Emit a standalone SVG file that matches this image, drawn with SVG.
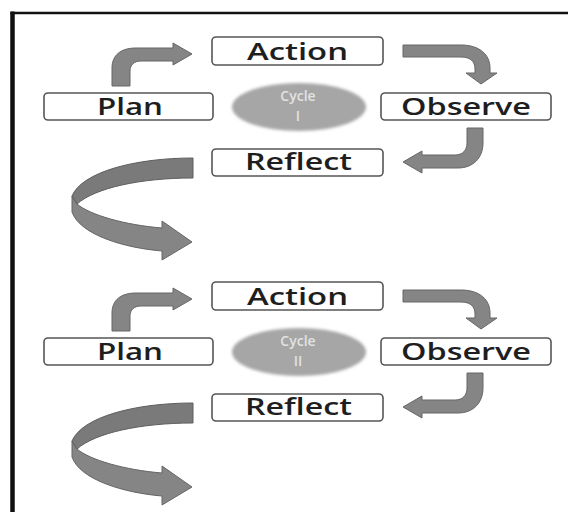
<svg xmlns="http://www.w3.org/2000/svg" width="568" height="512" viewBox="0 0 568 512">
<defs>
<filter id="soft" x="-20%" y="-20%" width="140%" height="140%"><feGaussianBlur stdDeviation="1.6"/></filter>
</defs>
<style>
.box{fill:#ffffff;stroke:#555555;stroke-width:1.6}
.lbl{font-family:"Open Sans","Noto Sans",sans-serif;font-size:24px;font-weight:600;fill:#1e1e1e;text-anchor:middle}
.cyc{fill:#a6a6a6;filter:url(#soft)}
.ctxt{font-family:"Open Sans","Noto Sans",sans-serif;font-size:14px;font-weight:600;fill:#e2e2e2;text-anchor:middle}
.arr{fill:#858585;stroke:#666666;stroke-width:1}
.arrd{fill:#7a7a7a;stroke:#5e5e5e;stroke-width:1}
.frame{stroke:#111111;fill:none}
</style>
<rect width="568" height="512" fill="#ffffff"/>
<g id="frame">
<line class="frame" x1="10.5" y1="13" x2="568" y2="13" stroke-width="2.5"/>
<line class="frame" x1="12.5" y1="11.5" x2="12.5" y2="512" stroke-width="4.5"/>
</g>

<g id="plan1"><rect class="box" x="44" y="93" width="169" height="27" rx="4"/><text class="lbl" x="130" y="115" textLength="66" lengthAdjust="spacingAndGlyphs">Plan</text></g>
<g id="action1"><rect class="box" x="212" y="37" width="171" height="28" rx="4"/><text class="lbl" x="297.5" y="60" textLength="101" lengthAdjust="spacingAndGlyphs">Action</text></g>
<g id="observe1"><rect class="box" x="381" y="93" width="170" height="27" rx="4"/><text class="lbl" x="466" y="115" textLength="130" lengthAdjust="spacingAndGlyphs">Observe</text></g>
<g id="reflect1"><rect class="box" x="212" y="149" width="171" height="27" rx="4"/><text class="lbl" x="298.5" y="170" textLength="107" lengthAdjust="spacingAndGlyphs">Reflect</text></g>
<g id="cycle1"><ellipse class="cyc" cx="299" cy="107" rx="67" ry="24"/><text class="ctxt" x="298" y="101">Cycle</text><text class="ctxt" x="298" y="121">I</text></g>

<g id="plan2"><rect class="box" x="44" y="338" width="169" height="27" rx="4"/><text class="lbl" x="130" y="360" textLength="66" lengthAdjust="spacingAndGlyphs">Plan</text></g>
<g id="action2"><rect class="box" x="212" y="282" width="171" height="28" rx="4"/><text class="lbl" x="297.5" y="305" textLength="101" lengthAdjust="spacingAndGlyphs">Action</text></g>
<g id="observe2"><rect class="box" x="381" y="338" width="170" height="27" rx="4"/><text class="lbl" x="466" y="360" textLength="130" lengthAdjust="spacingAndGlyphs">Observe</text></g>
<g id="reflect2"><rect class="box" x="212" y="394" width="171" height="27" rx="4"/><text class="lbl" x="298.5" y="415" textLength="107" lengthAdjust="spacingAndGlyphs">Reflect</text></g>
<g id="cycle2"><ellipse class="cyc" cx="299" cy="352" rx="67" ry="24"/><text class="ctxt" x="298" y="346">Cycle</text><text class="ctxt" x="298" y="366">II</text></g>

<g id="connectors">
<g id="cycle1-arrows">
<path class="arr" d="M112,86 L112,68 C112,55 121,48 136,48 L173,48 L173,43 L192,54 L173,65 L173,61 L141,61 C134,61 130,65 130,71 L130,86 Z"/>
<path class="arr" d="M403,45 L461,45 C480,45 490,55 490,68 L490,73 L497,73 L481,84 L466,73 L475,73 L475,69 C475,61 470,57 461,57 L403,57 Z"/>
<path class="arr" d="M467,128 L483,128 L483,143 C483,158 473,168 458,168 L422,168 L422,173 L403,162 L422,151 L422,155 L455,155 C463,155 467,150 467,143 Z"/>
<path class="arr" d="M72,196 L72,212 C80,235 125,248 162,251 L162,260 L192,242 L162,221 L162,228 C125,225 90,215 77,204 Z"/>
<path class="arrd" d="M193,158 C135,158 82,172 72,196 L77,204 C95,188 140,178 193,178 Z"/>
</g>
<g id="cycle2-arrows" transform="translate(0,245)">
<path class="arr" d="M112,86 L112,68 C112,55 121,48 136,48 L173,48 L173,43 L192,54 L173,65 L173,61 L141,61 C134,61 130,65 130,71 L130,86 Z"/>
<path class="arr" d="M403,45 L461,45 C480,45 490,55 490,68 L490,73 L497,73 L481,84 L466,73 L475,73 L475,69 C475,61 470,57 461,57 L403,57 Z"/>
<path class="arr" d="M467,128 L483,128 L483,143 C483,158 473,168 458,168 L422,168 L422,173 L403,162 L422,151 L422,155 L455,155 C463,155 467,150 467,143 Z"/>
<path class="arr" d="M72,196 L72,212 C80,235 125,248 162,251 L162,260 L192,242 L162,221 L162,228 C125,225 90,215 77,204 Z"/>
<path class="arrd" d="M193,158 C135,158 82,172 72,196 L77,204 C95,188 140,178 193,178 Z"/>
</g>
</g>
</svg>
